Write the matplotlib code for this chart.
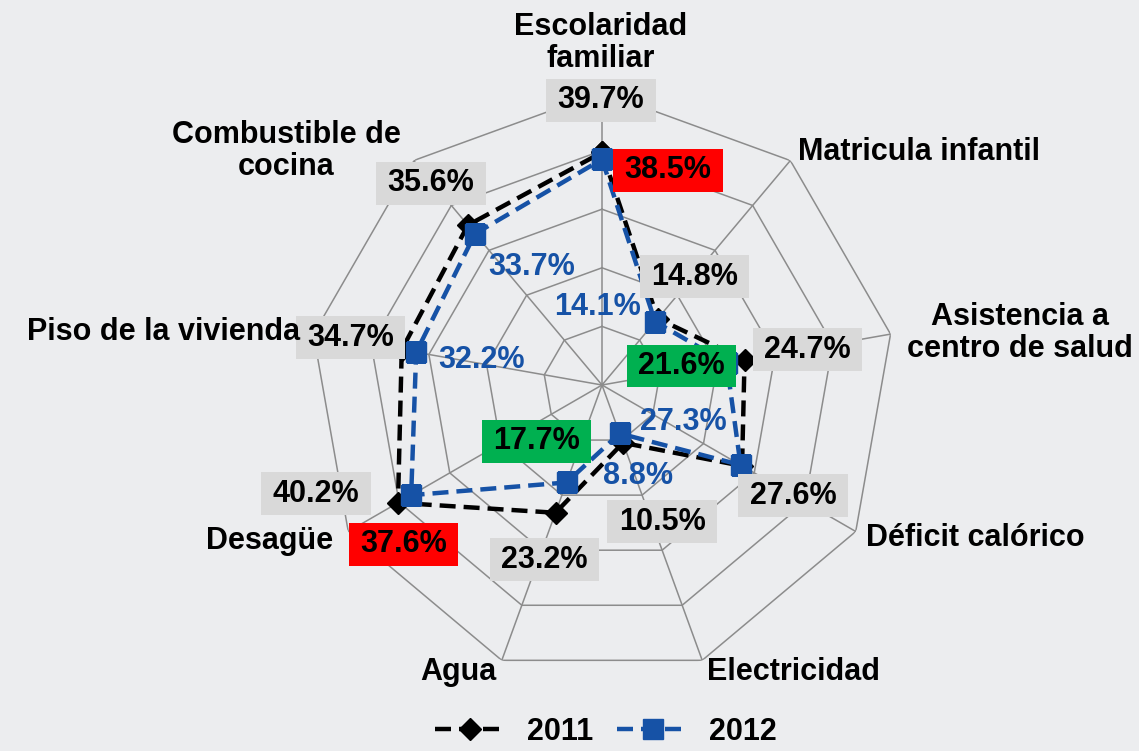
import numpy as np
import matplotlib.pyplot as plt
from matplotlib.lines import Line2D
from matplotlib.path import Path

W, H = 1139, 751

categorias = ["Escolaridad\nfamiliar", "Matricula infantil", "Asistencia a\ncentro de salud",
              "Déficit calórico", "Electricidad", "Agua", "Desagüe",
              "Piso de la vivienda", "Combustible de\ncocina"]
v2011 = [39.7, 14.8, 24.7, 27.6, 10.5, 23.2, 40.2, 34.7, 35.6]
v2012 = [38.5, 14.1, 21.6, 27.3, 8.8, 17.7, 37.6, 32.2, 33.7]
anillos = [10, 20, 30, 40, 50]
# fondo de la etiqueta 2012 (None = solo texto azul)
resalte_2012 = ["#ff0000", None, "#00b050", None, None, "#00b050", "#ff0000", None, None]

# offsets de etiquetas en pixeles (x a la derecha, y hacia abajo)
off2011 = [(-1, -52), (37, -42), (63, -10), (51, 30), (39, 79), (-11, 47), (-82, -9), (-51, -12), (-37, -42)]
off2012 = [(66, 11), (-58, -15), (-45, 3), (-57, -43), (18, 43), (-30, -41), (-8, 49), (65, 8), (57, 33)]
# posicion de los nombres de categoria en pixeles
pos_cat = [(601, 43, "center"), (798, 152, "left"), (1020, 333, "center"), (866, 538, "left"),
           (707, 672, "left"), (496, 672, "right"), (333, 541, "right"), (300, 332, "right"),
           (286, 151, "center")]

FONT = "Liberation Sans"
BG = "#ecedef"
AZUL = "#1652a6"
GRIS = "#8c8c8c"
FS = 22


def caja(x0, y0, width, height, mutation_size):
    # caja rectangular mas ancha que alta
    px, py = 0.37 * mutation_size, 0.21 * mutation_size
    x0, y0 = x0 - px, y0 - py
    x1, y1 = x0 + width + 2 * px, y0 + height + 2 * py
    return Path([(x0, y0), (x1, y0), (x1, y1), (x0, y1), (x0, y0)], closed=True)


fig = plt.figure(figsize=(W / 100, H / 100), dpi=100, facecolor=BG)

cx, cy, rad = 602, 385, 293
ax = fig.add_axes([(cx - rad) / W, 1 - (cy + rad) / H, 2 * rad / W, 2 * rad / H], projection="polar")
ax.set_theta_zero_location("N")
ax.set_theta_direction(-1)
ax.set_ylim(0, 50)
ax.axis("off")

theta = np.deg2rad(np.arange(len(categorias)) * 360 / len(categorias))
tc = np.r_[theta, theta[0]]

for r in anillos:
    ax.plot(tc, [r] * len(tc), color=GRIS, lw=1.1, zorder=1)
for t in theta:
    ax.plot([t, t], [0, anillos[-1]], color=GRIS, lw=1.1, zorder=1)

ax.plot(tc, np.r_[v2011, v2011[0]], color="black", lw=3.2, ls=(0, (3.6, 1.8)),
        marker="D", ms=11, zorder=3)
ax.plot(tc, np.r_[v2012, v2012[0]], color=AZUL, lw=3.2, ls=(0, (3.6, 1.8)),
        marker="s", ms=14, zorder=4)

for i, t in enumerate(theta):
    dx, dy = off2011[i]
    ax.annotate(f"{v2011[i]:.1f}%", xy=(t, v2011[i]), xytext=(dx, -dy), textcoords="offset pixels",
                ha="center", va="center", fontsize=FS, fontweight="bold", family=FONT,
                color="black", annotation_clip=False, zorder=5,
                bbox=dict(boxstyle=caja, fc="#d9d9d9", ec="none"))
    dx, dy = off2012[i]
    if resalte_2012[i]:
        kw = dict(color="black", bbox=dict(boxstyle=caja, fc=resalte_2012[i], ec="none"))
    else:
        kw = dict(color=AZUL)
    ax.annotate(f"{v2012[i]:.1f}%", xy=(t, v2012[i]), xytext=(dx, -dy), textcoords="offset pixels",
                ha="center", va="center", fontsize=FS, fontweight="bold", family=FONT,
                annotation_clip=False, zorder=6, **kw)

for nombre, (x, y, ha) in zip(categorias, pos_cat):
    fig.text(x / W, 1 - y / H, nombre, ha=ha, va="center", multialignment="center",
             fontsize=FS, fontweight="bold", family=FONT, linespacing=1.12)

h11 = Line2D([], [], color="black", lw=3.2, ls=(0, (3.6, 1.8)), marker="D", ms=11)
h12 = Line2D([], [], color=AZUL, lw=3.2, ls=(0, (3.6, 1.8)), marker="s", ms=14)
fig.legend([h11, h12], ["2011", "2012"], loc="center", bbox_to_anchor=(606 / W, 19 / H),
           ncol=2, frameon=False, handlelength=2.3, handletextpad=0.7, columnspacing=0.8,
           borderpad=0.0, prop=dict(family=FONT, weight="bold", size=FS))

fig.savefig("out.png", dpi=100, facecolor=BG)
